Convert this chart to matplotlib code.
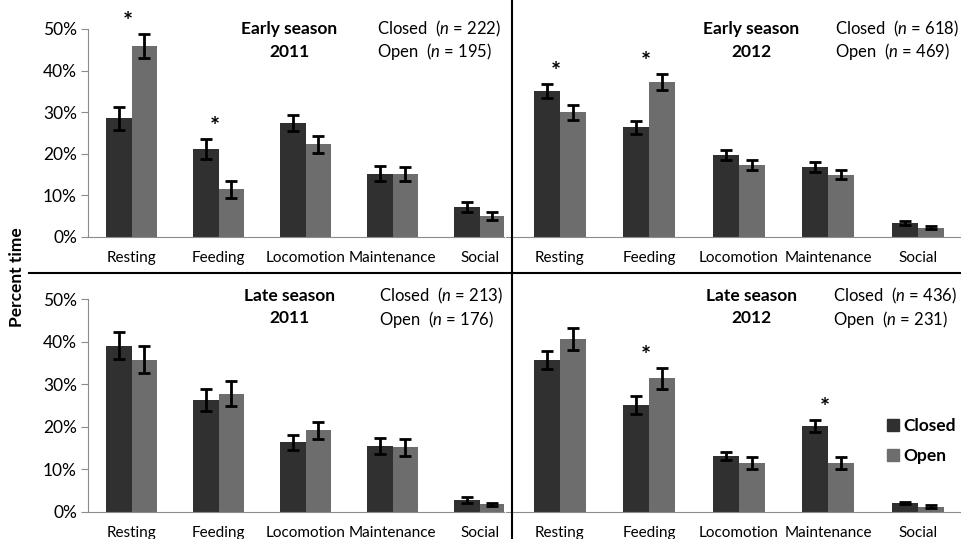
import matplotlib
matplotlib.use("Agg")
import matplotlib.pyplot as plt
from matplotlib.patches import Patch
from matplotlib.lines import Line2D

plt.rcParams['font.family'] = ['Lato', 'DejaVu Sans']
plt.rcParams['mathtext.fontset'] = 'custom'
plt.rcParams['mathtext.rm'] = 'Lato'
plt.rcParams['mathtext.it'] = 'Lato:italic'

# data (percent time, +/- error)
categories = ['Resting', 'Feeding', 'Locomotion', 'Maintenance', 'Social']
yticks = [0, 10, 20, 30, 40, 50]

early_2011_closed = [28.5, 21.2, 27.4, 15.2, 7.1]
early_2011_closed_err = [2.7, 2.4, 1.9, 1.7, 1.2]
early_2011_open = [45.9, 11.4, 22.2, 15.0, 5.0]
early_2011_open_err = [3.0, 2.0, 2.0, 1.7, 0.9]

early_2012_closed = [35.1, 26.3, 19.7, 16.8, 3.3]
early_2012_closed_err = [1.7, 1.5, 1.2, 1.2, 0.4]
early_2012_open = [29.9, 37.3, 17.2, 14.9, 2.2]
early_2012_open_err = [1.7, 1.9, 1.2, 1.1, 0.4]

late_2011_closed = [39.1, 26.4, 16.3, 15.5, 2.7]
late_2011_closed_err = [3.2, 2.6, 1.8, 1.8, 0.7]
late_2011_open = [35.8, 27.8, 19.2, 15.2, 1.7]
late_2011_open_err = [3.1, 2.9, 2.0, 2.0, 0.4]

late_2012_closed = [35.7, 25.1, 13.1, 20.2, 2.0]
late_2012_closed_err = [2.1, 2.2, 1.0, 1.5, 0.3]
late_2012_open = [40.6, 31.4, 11.5, 11.5, 1.2]
late_2012_open_err = [2.6, 2.5, 1.4, 1.4, 0.3]

# significant differences (index into categories)
early_2011_sig = [0, 1]
early_2012_sig = [0, 1]
late_2011_sig = []
late_2012_sig = [1, 3]

panel_titles = ['Early season\n2011', 'Early season\n2012', 'Late season\n2011', 'Late season\n2012']
n_closed = [222, 618, 213, 436]
n_open = [195, 469, 176, 231]

closed_color = '#303030'
open_color = '#6d6d6d'

W, H = 961, 539
fig = plt.figure(figsize=(W / 100, H / 100), dpi=100)


def px(x, y):
    return x / W, 1 - y / H


def make_ax(left, top, right, zero):
    return fig.add_axes([left / W, 1 - zero / H, (right - left) / W, (zero - top) / H])


panels = [
    (make_ax(88, 29, 504, 236.7), (-0.5, 4.28), True,
     early_2011_closed, early_2011_closed_err, early_2011_open, early_2011_open_err, early_2011_sig),
    (make_ax(506, 29, 961, 236.7), (-0.6, 4.48), False,
     early_2012_closed, early_2012_closed_err, early_2012_open, early_2012_open_err, early_2012_sig),
    (make_ax(88, 299.3, 504, 511.7), (-0.5, 4.28), True,
     late_2011_closed, late_2011_closed_err, late_2011_open, late_2011_open_err, late_2011_sig),
    (make_ax(506, 299.3, 961, 511.7), (-0.6, 4.48), False,
     late_2012_closed, late_2012_closed_err, late_2012_open, late_2012_open_err, late_2012_sig),
]

w = 0.29
x = list(range(len(categories)))
for ax, xl, show_y, c, ce, o, oe, sig in panels:
    xc = [i - w / 2 for i in x]
    xo = [i + w / 2 for i in x]
    ax.bar(xc, c, width=w, color=closed_color, zorder=2)
    ax.bar(xo, o, width=w, color=open_color, zorder=2)
    ax.errorbar(xc, c, yerr=ce, fmt='none', ecolor='black', elinewidth=2, capsize=4, capthick=2, zorder=3)
    ax.errorbar(xo, o, yerr=oe, fmt='none', ecolor='black', elinewidth=2, capsize=4, capthick=2, zorder=3)
    for i in sig:
        top = max(c[i] + ce[i], o[i] + oe[i])
        ax.annotate('*', (i - 0.04, top), xytext=(0, 8), textcoords='offset points',
                    ha='center', va='center', fontsize=17, fontweight='bold', clip_on=False)
    ax.set_xlim(*xl)
    ax.set_ylim(0, 50)
    ax.set_xticks(x)
    ax.set_xticklabels(categories, fontsize=11)
    ax.tick_params(axis='x', length=0, pad=10)
    for s in ['top', 'right']:
        ax.spines[s].set_visible(False)
    ax.spines['bottom'].set_color('#8c8c8c')
    ax.spines['left'].set_color('#8c8c8c')
    ax.patch.set_visible(False)
    if show_y:
        ax.set_yticks(yticks)
        ax.set_yticklabels([f'{t}%' for t in yticks], fontsize=12.5)
        ax.tick_params(axis='y', length=5, color='#8c8c8c', pad=3)
    else:
        ax.spines['left'].set_visible(False)
        ax.set_yticks([])

# panel labels
title_pos = [(289, 40.5), (751, 40.5), (289, 307), (751, 307)]
n_pos = [(377, 29), (835, 29), (379, 296), (833, 296)]
for t, (tx, ty), (nx, ny), nc, no in zip(panel_titles, title_pos, n_pos, n_closed, n_open):
    fig.text(*px(tx, ty), t, ha='center', va='center', fontsize=12.5, fontweight='bold', linespacing=1.5)
    fig.text(*px(nx, ny), f'Closed  ($n$ = {nc})', ha='left', va='center', fontsize=12)
    fig.text(*px(nx, ny + 23), f'Open  ($n$ = {no})', ha='left', va='center', fontsize=12)

fig.text(*px(17, 277), 'Percent time', rotation=90, ha='center', va='center', fontsize=12.5, fontweight='bold')

# divider lines
fig.add_artist(Line2D([512 / W, 512 / W], [0, 1], color='black', lw=1.5))
fig.add_artist(Line2D([29 / W, 1], [1 - 273 / H, 1 - 273 / H], color='black', lw=1.5))

handles = [Patch(color=closed_color), Patch(color=open_color)]
leg = fig.legend(handles, ['Closed', 'Open'], loc='center left', bbox_to_anchor=px(871, 441),
                 frameon=False, handlelength=0.7, handleheight=0.7, handletextpad=0.25,
                 labelspacing=0.8, prop={'weight': 'bold', 'size': 12.5})

fig.savefig('out.png', dpi=100)
